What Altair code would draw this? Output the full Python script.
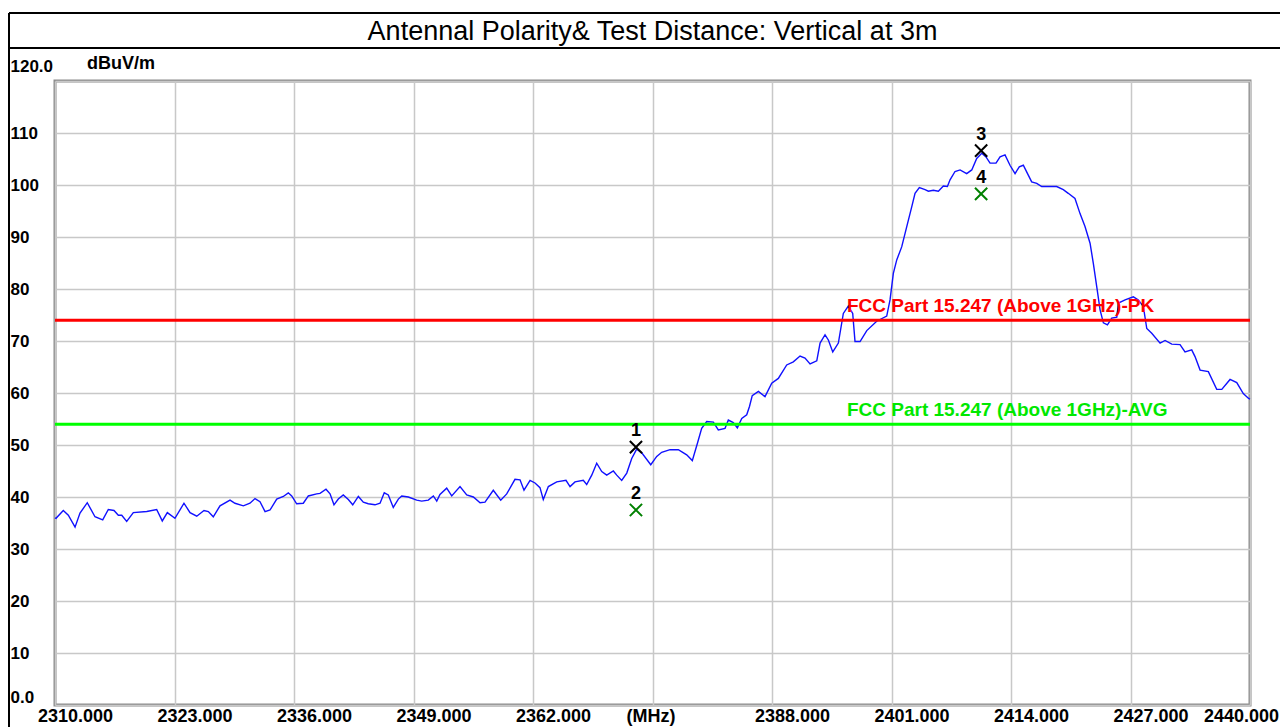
import altair as alt
import pandas as pd

# ---- trace (frequency in MHz, level in dBuV/m) ----
freq = [
    2310.00, 2310.11, 2310.90, 2311.45, 2312.18, 2312.72, 2313.51, 2314.35, 2315.19, 2315.80,
    2316.42, 2316.89, 2317.26, 2317.80, 2318.52, 2319.98, 2321.06, 2321.67, 2322.22, 2323.05,
    2324.03, 2324.69, 2325.42, 2326.21, 2326.68, 2327.22, 2327.95, 2329.04, 2329.58, 2330.49,
    2331.21, 2331.76, 2332.30, 2332.85, 2333.39, 2334.12, 2334.84, 2335.38, 2335.75, 2336.29,
    2337.01, 2337.56, 2338.47, 2338.83, 2339.48, 2339.92, 2340.35, 2340.82, 2341.36, 2341.91,
    2342.39, 2343.00, 2343.54, 2344.08, 2344.81, 2345.36, 2345.82, 2346.26, 2346.80, 2347.35,
    2347.72, 2348.44, 2349.35, 2349.89, 2350.61, 2351.16, 2351.53, 2351.88, 2352.61, 2353.16,
    2354.06, 2354.79, 2355.51, 2356.24, 2356.78, 2357.68, 2358.49, 2359.14, 2360.04, 2360.59,
    2361.02, 2361.68, 2362.22, 2362.76, 2363.12, 2363.67, 2364.58, 2365.59, 2366.03, 2366.57,
    2367.47, 2367.84, 2368.39, 2368.93, 2369.48, 2370.02, 2370.74, 2371.11, 2371.65, 2372.20,
    2372.74, 2373.28, 2373.83, 2374.81, 2375.46, 2376.00, 2376.91, 2377.81, 2378.72, 2379.33,
    2379.88, 2380.35, 2380.90, 2381.62, 2382.16, 2382.89, 2383.25, 2383.79, 2384.23, 2384.71,
    2385.25, 2385.55, 2385.85, 2386.52, 2387.24, 2387.97, 2388.69, 2389.60, 2390.32, 2391.05,
    2391.59, 2392.14, 2392.87, 2393.23, 2393.77, 2394.13, 2394.61, 2395.22, 2395.76, 2396.30,
    2396.78, 2397.03, 2397.58, 2398.31, 2399.39, 2400.48, 2400.84, 2401.20, 2401.57, 2402.11,
    2402.66, 2403.20, 2403.56, 2404.03, 2404.65, 2405.01, 2405.55, 2406.10, 2406.64, 2407.08,
    2407.37, 2407.91, 2408.46, 2409.18, 2409.73, 2410.27, 2410.82, 2411.28, 2411.72, 2412.37,
    2412.81, 2413.35, 2413.89, 2414.44, 2414.90, 2415.34, 2415.88, 2416.25, 2416.80, 2417.34,
    2418.25, 2418.97, 2419.69, 2420.23, 2420.96, 2421.51, 2422.05, 2422.60, 2422.96, 2423.33,
    2423.69, 2424.05, 2424.49, 2424.96, 2425.51, 2425.69, 2426.41, 2427.31, 2427.86, 2428.40,
    2428.77, 2429.31, 2430.22, 2430.76, 2431.49, 2432.39, 2432.93, 2433.66, 2434.02, 2434.57,
    2435.47, 2436.38, 2436.93, 2437.83, 2438.56, 2439.27, 2439.82, 2440.00,
]
level = [
    36.0, 35.9, 37.4, 36.5, 34.2, 36.9, 38.9, 36.2, 35.6, 37.6,
    37.4, 36.5, 36.5, 35.3, 37.0, 37.2, 37.6, 35.4, 37.0, 35.9,
    38.8, 37.0, 36.3, 37.4, 37.2, 36.2, 38.3, 39.4, 38.8, 38.3,
    38.8, 39.7, 39.1, 37.2, 37.5, 39.6, 40.1, 40.8, 40.2, 38.7,
    38.8, 40.2, 40.6, 40.7, 41.5, 40.6, 38.5, 39.6, 40.4, 39.5,
    38.5, 40.1, 39.0, 38.7, 38.5, 38.8, 40.8, 40.4, 38.0, 39.6,
    40.2, 40.0, 39.4, 39.2, 39.4, 40.2, 39.2, 40.5, 41.7, 40.2,
    42.0, 40.4, 40.0, 38.9, 39.0, 41.3, 39.4, 40.6, 43.4, 43.3,
    41.3, 43.2, 42.7, 41.8, 39.5, 42.0, 42.9, 43.2, 42.0, 42.9,
    43.2, 42.4, 44.2, 46.5, 44.9, 44.2, 45.0, 44.2, 43.2, 44.6,
    47.4, 49.2, 48.5, 46.2, 47.8, 48.6, 49.1, 49.1, 48.1, 47.0,
    50.3, 53.2, 54.5, 54.4, 52.9, 53.2, 54.8, 54.3, 53.3, 55.1,
    55.8, 57.4, 59.5, 60.3, 59.3, 61.9, 62.8, 65.4, 66.0, 67.1,
    66.7, 65.6, 66.2, 69.6, 71.2, 70.2, 67.9, 69.6, 75.3, 76.7,
    75.3, 69.9, 69.9, 72.0, 73.8, 74.8, 77.9, 83.0, 85.6, 88.1,
    92.0, 95.8, 98.4, 99.5, 99.1, 98.8, 99.0, 98.8, 99.8, 99.7,
    101.0, 102.6, 102.9, 102.2, 102.9, 105.1, 106.1, 105.4, 104.2, 104.2,
    105.4, 105.8, 103.8, 102.2, 103.5, 103.8, 101.9, 100.6, 100.3, 99.7,
    99.7, 99.7, 99.1, 98.4, 97.4, 94.5, 92.0, 88.8, 84.9, 80.4,
    76.0, 73.5, 73.1, 74.4, 74.6, 77.3, 77.9, 78.5, 77.9, 76.6,
    72.4, 71.5, 69.6, 70.1, 69.4, 69.3, 67.9, 68.3, 67.0, 64.4,
    64.1, 60.7, 60.7, 62.6, 62.0, 59.9, 59.0, 58.8,
]

# ---- limit lines ----
limit_names = ["FCC Part 15.247 (Above 1GHz)-PK", "FCC Part 15.247 (Above 1GHz)-AVG"]
limit_levels = [74, 54]
limit_colors = ["#ff0000", "#00ff00"]
limit_text_colors = ["#ff0000", "#00e800"]
limit_label_freq = [2396.15, 2396.15]

# ---- markers ----
marker_no = ["1", "2", "3", "4"]
marker_freq = [2373.2, 2373.2, 2410.75, 2410.75]
marker_level = [49.6, 37.5, 106.6, 98.3]
marker_colors = ["#000000", "#008000", "#000000", "#008000"]

# ---- axes ----
x_ticks = [2310, 2323, 2336, 2349, 2362, 2375, 2388, 2401, 2414, 2427, 2440]
y_ticks = [0, 10, 20, 30, 40, 50, 60, 70, 80, 90, 100, 110, 120]

title_text = "Antennal Polarity& Test Distance: Vertical at 3m"
unit_text = "dBuV/m"

W, H = 1195, 624
PAD = {"left": 47, "top": 73, "right": 30, "bottom": 22}
FONT = "Liberation Sans"

trace_df = pd.DataFrame({"freq": freq, "level": level})
limit_df = pd.DataFrame({"name": limit_names, "level": limit_levels, "color": limit_colors,
                         "tcolor": limit_text_colors, "freq": limit_label_freq})
marker_df = pd.DataFrame({"no": marker_no, "freq": marker_freq, "level": marker_level,
                          "color": marker_colors})
one = pd.DataFrame({"k": [0]})

xscale = alt.Scale(domain=[2310, 2440], nice=False, zero=False)
yscale = alt.Scale(domain=[0, 120], nice=False, zero=False)

x_axis = alt.Axis(
    values=x_ticks, title=None, grid=True, ticks=False, domain=False,
    labelExpr="datum.value == 2375 ? '(MHz)' : format(datum.value, '.3f')",
    labelFont=FONT, labelFontWeight="bold", labelFontSize=18, labelColor="black",
    labelPadding=2, labelFlush=False, labelOverlap=False, labelBound=False,
    labelOffset={"condition": [{"test": "datum.value == 2375", "value": -2},
                               {"test": "datum.value == 2440", "value": -9}],
                 "value": 20},
    gridColor="#c8c8c8", gridWidth=1.5,
)
y_axis = alt.Axis(
    values=y_ticks, title=None, grid=True, ticks=False, domain=False,
    labelExpr="datum.value == 0 ? '0.0' : (datum.value == 120 ? '120.0' : datum.label)",
    labelFont=FONT, labelFontWeight="bold", labelFontSize=17, labelColor="black",
    labelAlign="left", labelBaseline="middle", labelPadding=45,
    labelFlush=False, labelOverlap=False, labelBound=False,
    labelOffset={"condition": [{"test": "datum.value == 120", "value": -15},
                               {"test": "datum.value == 0", "value": -8}],
                 "value": 0},
    gridColor="#c8c8c8", gridWidth=1.5,
)

trace = alt.Chart(trace_df).mark_line(color="#1010ff", strokeWidth=1.4).encode(
    x=alt.X("freq:Q", scale=xscale, axis=x_axis),
    y=alt.Y("level:Q", scale=yscale, axis=y_axis),
)

limits = alt.Chart(limit_df).mark_rule(strokeWidth=3).encode(
    y=alt.Y("level:Q", scale=yscale),
    color=alt.Color("color:N", scale=None),
)
limit_labels = alt.Chart(limit_df).mark_text(
    align="left", baseline="alphabetic", dy=-8, font=FONT, fontWeight="bold", fontSize=19
).encode(
    x=alt.X("freq:Q", scale=xscale),
    y=alt.Y("level:Q", scale=yscale),
    text="name:N",
    color=alt.Color("tcolor:N", scale=None),
)

markers = alt.Chart(marker_df).mark_point(
    shape="M-1,-1L1,1M-1,1L1,-1", size=150, filled=False, strokeWidth=2, opacity=1
).encode(
    x=alt.X("freq:Q", scale=xscale),
    y=alt.Y("level:Q", scale=yscale),
    color=alt.Color("color:N", scale=None),
)
marker_labels = alt.Chart(marker_df).mark_text(
    dy=-16, font=FONT, fontWeight="bold", fontSize=18, color="black", baseline="middle"
).encode(
    x=alt.X("freq:Q", scale=xscale),
    y=alt.Y("level:Q", scale=yscale),
    text="no:N",
)

# frame around the whole picture and the title box
RIGHT = W + PAD["right"]
BOTTOM = H + PAD["bottom"]
frame_top = alt.Chart(one).mark_rule(color="black", strokeWidth=2).encode(
    x=alt.value(-46), x2=alt.value(RIGHT), y=alt.value(-68))
frame_title = alt.Chart(one).mark_rule(color="black", strokeWidth=2).encode(
    x=alt.value(-46), x2=alt.value(RIGHT), y=alt.value(-33))
frame_left = alt.Chart(one).mark_rule(color="black", strokeWidth=2).encode(
    x=alt.value(-46), y=alt.value(-68), y2=alt.value(BOTTOM))

title = alt.Chart(one).mark_text(
    text=title_text, font=FONT, fontSize=27, align="center", baseline="middle", color="black"
).encode(x=alt.value(W / 2), y=alt.value(-49))
unit = alt.Chart(one).mark_text(
    text=unit_text, font=FONT, fontSize=18, fontWeight="bold", align="left",
    baseline="middle", color="black"
).encode(x=alt.value(32), y=alt.value(-17))

chart = alt.layer(
    trace, limits, limit_labels, markers, marker_labels,
    frame_top, frame_title, frame_left, title, unit,
).properties(
    width=W, height=H,
    autosize=alt.AutoSizeParams(type="none"),
    padding=PAD,
    background="white",
).configure_view(stroke="#8c8c8c", strokeWidth=3)

chart.save("out.html", embed_options={"renderer": "svg", "actions": False})
